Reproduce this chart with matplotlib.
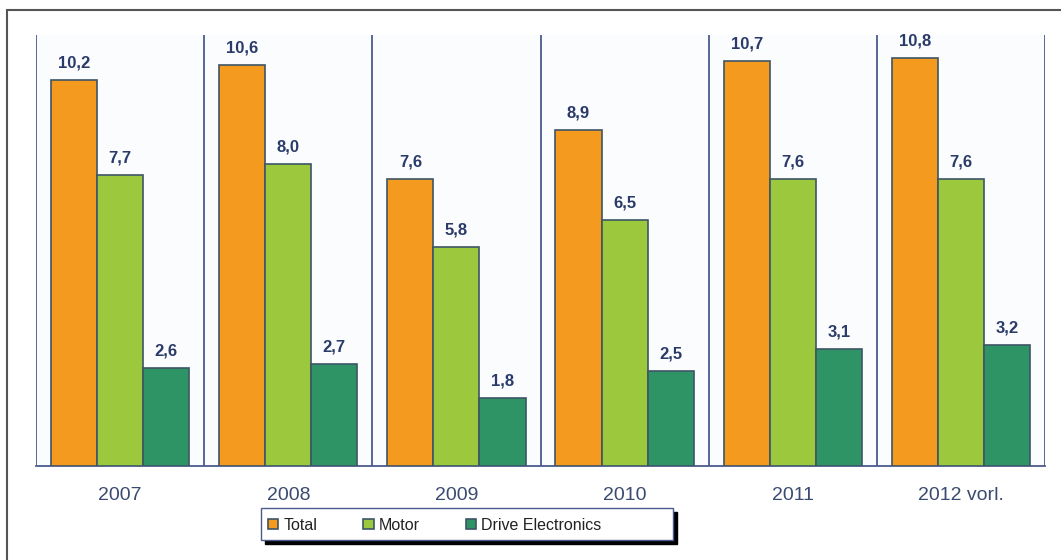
import matplotlib
matplotlib.use('Agg')
import matplotlib.pyplot as plt
import numpy as np
from matplotlib.patches import Rectangle

plt.rcParams['font.family'] = ['Liberation Sans', 'DejaVu Sans']

years = ['2007', '2008', '2009', '2010', '2011', '2012 vorl.']
series = ['Total', 'Motor', 'Drive Electronics']
total = [10.2, 10.6, 7.6, 8.9, 10.7, 10.8]
motor = [7.7, 8.0, 5.8, 6.5, 7.6, 7.6]
drive = [2.6, 2.7, 1.8, 2.5, 3.1, 3.2]

colors = ['#F49A1F', '#9BC83D', '#2F9465']
label_color = '#2A3B6A'
axis_color = '#4B5B8C'

W, H = 1061, 560
fig = plt.figure(figsize=(W / 100, H / 100), dpi=100)
ax = fig.add_axes([36 / W, (H - 466) / H, (1045 - 36) / W, (466 - 35) / H])

x = np.arange(len(years))
width = 0.274
handles = []
for j, (name, vals) in enumerate(zip(series, [total, motor, drive])):
    bars = ax.bar(x + (j - 1) * width, vals, width, color=colors[j],
                  edgecolor='#3D5566', linewidth=1.2, label=name, zorder=3)
    handles.append(bars)
    for rect, v in zip(bars, vals):
        ax.annotate(f'{v:.1f}'.replace('.', ','),
                    (rect.get_x() + rect.get_width() / 2, v),
                    xytext=(0, 9), textcoords='offset points',
                    ha='center', va='baseline', fontsize=12,
                    fontweight='bold', color=label_color)

# group separators
for sep in np.arange(len(years) + 1) - 0.5:
    ax.axvline(sep, color=axis_color, lw=1.3, zorder=2)

ax.set_xlim(-0.5, len(years) - 0.5)
ax.set_ylim(0, 11.4)
ax.set_yticks([])
ax.set_xticks(x)
ax.set_xticklabels(years, fontsize=14, color='#3A4A70')
ax.tick_params(axis='x', length=0, pad=15)
for s in ['top', 'left', 'right']:
    ax.spines[s].set_visible(False)
ax.spines['bottom'].set_color(axis_color)
ax.spines['bottom'].set_linewidth(1.3)
ax.set_facecolor('#FBFCFE')

# legend box with a hard black drop shadow
fig.patches.append(Rectangle((265 / W, (H - 544) / H), (673 - 261) / W, 32 / H,
                             transform=fig.transFigure, facecolor='black',
                             edgecolor='black', zorder=5))
fig.patches.append(Rectangle((261 / W, (H - 540) / H), (673 - 261) / W, 32 / H,
                             transform=fig.transFigure, facecolor='white',
                             edgecolor='#4B5B8C', linewidth=1.0, zorder=6))
leg = fig.legend(handles=handles, labels=series, ncol=3,
                 bbox_to_anchor=(268 / W, (H - 525) / H),
                 loc='center left', fontsize=11.5, frameon=False,
                 handlelength=0.65, handleheight=0.65, handletextpad=0.3,
                 columnspacing=2.9, borderaxespad=0, borderpad=0)
leg.set_zorder(7)
for t in leg.get_texts():
    t.set_color('#222222')

# outer frame
fig.patches.append(Rectangle((7 / W, -0.1), 2, (H - 10) / H + 0.1,
                             transform=fig.transFigure, fill=False,
                             edgecolor='#555555', linewidth=1.5))

fig.savefig('out.png', dpi=100)
